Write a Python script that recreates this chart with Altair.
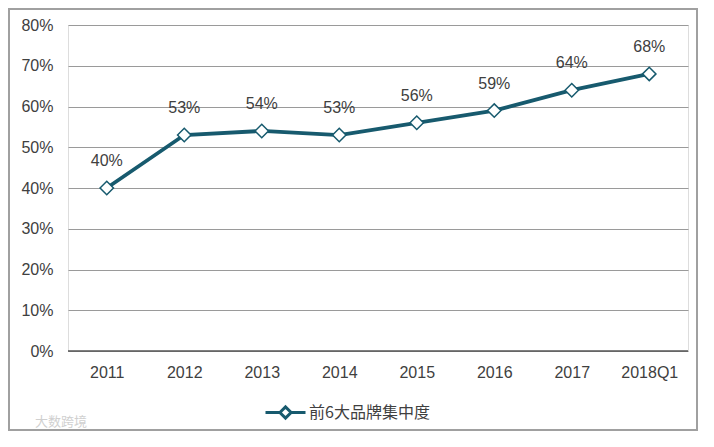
import altair as alt
import pandas as pd

years = ["2011", "2012", "2013", "2014", "2015", "2016", "2017", "2018Q1"]
share = [0.40, 0.53, 0.54, 0.53, 0.56, 0.59, 0.64, 0.68]
series = "前6大品牌集中度"

df = pd.DataFrame({"year": years, "share": share, "series": [series] * len(years)})
df["label"] = [f"{round(v * 100)}%" for v in share]

TEAL = "#175a6e"
FONT = "Liberation Sans"
CJK = "Noto Sans CJK SC"
TXT = "#404040"

x = alt.X("year:N", sort=years, title=None,
          scale=alt.Scale(paddingInner=0, paddingOuter=0.5),
          axis=alt.Axis(labelAngle=0, ticks=False, domain=False, labelPadding=13,
                        labelFontSize=16, labelColor=TXT, labelFont=FONT))
y = alt.Y("share:Q", title=None,
          scale=alt.Scale(domain=[0, 0.8]),
          axis=alt.Axis(format=".0%", values=[i / 10 for i in range(9)], ticks=False,
                        domain=False, labelPadding=15, labelFontSize=16,
                        labelColor=TXT, labelFont=FONT,
                        gridColor="#9a9a9a", gridWidth=1.2))

base = alt.Chart(df)

line = base.mark_line(strokeWidth=3.8, color=TEAL).encode(
    x=x, y=y,
    color=alt.Color("series:N", scale=alt.Scale(range=[TEAL]), title=None,
                    legend=alt.Legend(orient="none", legendX=196, legendY=366,
                                      symbolType="M-1,0L-0.28,0M0.28,0L1,0M-0.28,0L0,-0.28L0.28,0L0,0.28Z",
                                      symbolSize=1600, symbolStrokeWidth=3,
                                      symbolFillColor="white", symbolStrokeColor=TEAL,
                                      labelFont=CJK, labelFontSize=16, labelColor=TXT,
                                      labelOffset=2)),
)

pts = base.mark_point(shape="diamond", filled=True, fill="white", stroke=TEAL,
                      strokeWidth=1.5, size=180, opacity=1).encode(x=x, y=y)

zero = alt.Chart(pd.DataFrame({"z": [0]})).mark_rule(color="#555555", strokeWidth=1.5).encode(
    y=alt.Y("z:Q", scale=alt.Scale(domain=[0, 0.8])))

labels = base.mark_text(dy=-27, fontSize=16, font=FONT, color=TXT).encode(
    x=x, y=y, text="label:N")

frame = alt.Chart(pd.DataFrame({"a": [0]})).mark_rect(
    fill=None, stroke="#a0a0a0", strokeWidth=2).encode(
    x=alt.value(-59), x2=alt.value(629), y=alt.value(-16), y2=alt.value(405))

mark_wm = alt.Chart(pd.DataFrame({"t": ["大数跨境"]})).mark_text(
    font=CJK, fontSize=13, color="#d0d0d0", align="left").encode(
    x=alt.value(-33), y=alt.value(397), text="t:N")

chart = alt.layer(frame, line, zero, pts, labels, mark_wm).properties(
    width=620, height=326,
    autosize=alt.AutoSizeParams(type="none"),
    padding={"left": 60, "top": 17, "right": 18, "bottom": 80},
).configure_view(stroke=None).configure(background="white")

chart.save("out.html", embed_options={"renderer": "svg", "actions": False})
